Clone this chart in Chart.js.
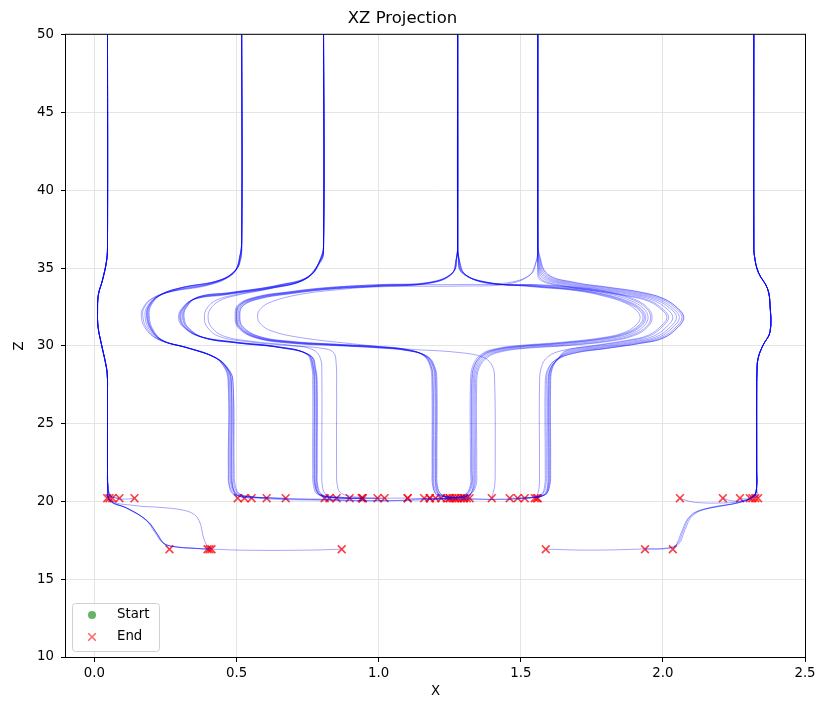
<!DOCTYPE html>
<html>
<head>
<meta charset="utf-8">
<title>XZ Projection</title>
<script src="https://cdn.jsdelivr.net/npm/chart.js@4.4.0/dist/chart.umd.min.js"></script>
<style>
  html, body { margin: 0; padding: 0; background: #fff; }
  #wrap { width: 817px; height: 702px; }
</style>
</head>
<body>
<div id="wrap"><canvas id="xzChart" width="817" height="702"></canvas></div>
<script>
const xTicks = [0.0, 0.5, 1.0, 1.5, 2.0, 2.5];
const zTicks = [10, 15, 20, 25, 30, 35, 40, 45, 50];

// paths are flat [x, z, x, z, ...] lists

// outermost columns: one shared descent, different tails at the floor
const leftColumnCore = [0.046,52, 0.046,36.6, 0.043,35.5, 0.028,34.2, 0.014,33.3, 0.011,32.2, 0.013,31.2, 0.024,30.16, 0.038,29.0, 0.045,28.2, 0.046,27, 0.046,22, 0.047,21];
const leftColumnTails = [
  [0.045,20.21],
  [0.05,20.45, 0.053,20.21],
  [0.052,20.45, 0.063,20.21],
  [0.055,20.4, 0.07,20.25, 0.088,20.21],
  [0.056,20.4, 0.08,20.2, 0.11,20.15, 0.141,20.21],
  [0.053,20.1, 0.113,19.57, 0.183,18.8, 0.218,17.96, 0.239,17.4, 0.264,16.93],
  [0.054,20.1, 0.11,19.6, 0.178,18.86, 0.213,18.0, 0.24,17.35, 0.28,17.1, 0.35,17.0, 0.398,16.93],
  [0.055,20.05, 0.12,19.52, 0.188,18.7, 0.222,17.9, 0.247,17.28, 0.29,17.08, 0.36,16.98, 0.405,16.93],
  [0.055,20.05, 0.118,19.55, 0.186,18.75, 0.22,17.93, 0.244,17.3, 0.29,17.06, 0.36,16.97, 0.41,16.93, 0.55,16.86, 0.75,16.87, 0.87,16.93],
  [0.054,20.1, 0.14,19.74, 0.229,19.62, 0.31,19.45, 0.352,19.15, 0.372,18.6, 0.382,17.8, 0.395,17.2, 0.412,16.93]
];

const rightColumnCore = [2.32,52, 2.32,36.6, 2.322,35.8, 2.336,34.72, 2.368,33.69, 2.377,32.6, 2.377,30.9, 2.352,30.03, 2.335,29.2, 2.331,28.3, 2.33,27, 2.33,22, 2.33,21];
const rightColumnTails = [
  [2.335,20.21],
  [2.328,20.45, 2.325,20.21],
  [2.326,20.45, 2.315,20.21],
  [2.324,20.4, 2.306,20.21],
  [2.322,20.4, 2.295,20.17, 2.271,20.21],
  [2.32,20.35, 2.28,20.05, 2.24,20.05, 2.211,20.21],
  [2.32,20.35, 2.27,20.0, 2.2,19.9, 2.12,19.93, 2.085,20.05, 2.06,20.21],
  [2.322,20.4, 2.285,20.02, 2.2,19.68, 2.125,19.4, 2.09,18.95, 2.068,18.15, 2.05,17.32, 2.035,16.93],
  [2.322,20.4, 2.28,19.98, 2.16,19.55, 2.105,19.1, 2.078,18.2, 2.058,17.32, 2.025,17.0, 1.937,16.93],
  [2.32,20.38, 2.272,19.95, 2.155,19.56, 2.098,19.05, 2.072,18.15, 2.052,17.3, 2.02,17.02, 1.94,16.95, 1.75,16.87, 1.588,16.93]
];

// column x=0.52 -> outer left loop -> down at x~0.48
const outerLeftLoopPaths = [
  [0.518,52, 0.518,36.6, 0.512,35.8, 0.502,34.97, 0.44,34.22, 0.30,33.72, 0.229,33.26, 0.194,32.6, 0.187,31.96, 0.20,31.1, 0.239,30.35, 0.335,29.84, 0.43,29.2, 0.468,28.55, 0.482,27.8, 0.484,22, 0.486,21.1, 0.494,20.5, 0.504,20.21],
  [0.518,52, 0.518,36.4, 0.509,35.6, 0.495,34.85, 0.43,34.12, 0.29,33.62, 0.222,33.16, 0.19,32.55, 0.183,31.96, 0.196,31.12, 0.235,30.38, 0.33,29.86, 0.425,29.25, 0.464,28.6, 0.479,27.8, 0.48,22, 0.483,21.1, 0.497,20.5, 0.515,20.3, 0.528,20.21],
  [0.518,52, 0.518,36.2, 0.508,35.4, 0.49,34.7, 0.42,34.05, 0.28,33.55, 0.215,33.1, 0.185,32.5, 0.178,31.96, 0.19,31.15, 0.23,30.4, 0.325,29.88, 0.42,29.3, 0.46,28.65, 0.475,27.8, 0.477,22, 0.48,21.1, 0.495,20.5, 0.525,20.28, 0.553,20.21],
  [0.518,52, 0.518,36.8, 0.514,35.9, 0.505,35.05, 0.45,34.28, 0.31,33.76, 0.236,33.3, 0.2,32.62, 0.193,31.96, 0.205,31.08, 0.244,30.32, 0.34,29.82, 0.435,29.16, 0.472,28.5, 0.487,27.8, 0.489,22, 0.492,21.0, 0.51,20.45, 0.56,20.28, 0.606,20.21],
  [0.518,52, 0.518,36.0, 0.506,35.25, 0.485,34.6, 0.41,33.98, 0.27,33.5, 0.205,33.05, 0.175,32.45, 0.17,31.96, 0.182,31.2, 0.222,30.45, 0.318,29.92, 0.415,29.35, 0.456,28.7, 0.472,27.8, 0.473,22, 0.476,21.0, 0.495,20.45, 0.56,20.28, 0.63,20.22, 0.673,20.21],
  [0.518,52, 0.518,36.5, 0.511,35.7, 0.498,34.92, 0.435,34.18, 0.295,33.68, 0.226,33.22, 0.192,32.58, 0.185,31.96, 0.198,31.1, 0.237,30.36, 0.333,29.85, 0.428,29.22, 0.466,28.57, 0.481,27.8, 0.483,22, 0.486,21.0, 0.505,20.45, 0.6,20.25, 0.8,20.15, 0.944,20.21],
  [0.518,52, 0.518,35.9, 0.505,35.15, 0.48,34.5, 0.40,33.9, 0.26,33.45, 0.198,33.0, 0.17,32.4, 0.165,31.96, 0.176,31.22, 0.218,30.47, 0.312,29.95, 0.41,29.4, 0.452,28.75, 0.47,27.8, 0.471,22, 0.474,21.0, 0.49,20.45, 0.58,20.2, 0.8,20.08, 1.0,20.05, 1.15,20.1, 1.25,20.21],
  [0.518,52, 0.518,36.7, 0.513,35.85, 0.503,35.0, 0.445,34.25, 0.305,33.74, 0.232,33.28, 0.197,32.61, 0.19,31.96, 0.202,31.09, 0.241,30.34, 0.337,29.83, 0.432,29.18, 0.47,28.52, 0.487,27.8, 0.492,22, 0.496,21.0, 0.515,20.45, 0.62,20.22, 0.85,20.1, 1.05,20.05, 1.18,20.21]
];

// column x=0.81 -> second left loop -> down at x~0.78
const secondLeftLoopPaths = [
  [0.806,52, 0.806,36.6, 0.799,35.8, 0.757,34.5, 0.651,33.9, 0.475,33.4, 0.359,33.1, 0.317,32.4, 0.31,31.8, 0.324,31.2, 0.38,30.55, 0.5,30.2, 0.651,29.9, 0.757,29.4, 0.775,28.55, 0.78,27.5, 0.78,22, 0.781,21.0, 0.79,20.5, 0.81,20.21],
  [0.806,52, 0.806,36.4, 0.797,35.65, 0.752,34.42, 0.645,33.85, 0.47,33.36, 0.355,33.05, 0.313,32.38, 0.305,31.8, 0.318,31.22, 0.374,30.58, 0.495,30.22, 0.646,29.92, 0.752,29.44, 0.771,28.6, 0.776,27.5, 0.776,22, 0.778,21.0, 0.79,20.45, 0.81,20.28, 0.827,20.21],
  [0.806,52, 0.806,36.8, 0.801,35.9, 0.762,34.58, 0.657,33.95, 0.48,33.44, 0.364,33.14, 0.322,32.42, 0.316,31.8, 0.33,31.18, 0.386,30.52, 0.505,30.18, 0.656,29.88, 0.762,29.36, 0.779,28.5, 0.784,27.5, 0.784,22, 0.786,21.0, 0.8,20.45, 0.83,20.27, 0.852,20.21],
  [0.806,52, 0.806,36.2, 0.795,35.5, 0.748,34.35, 0.64,33.8, 0.465,33.32, 0.35,33.0, 0.308,32.35, 0.3,31.8, 0.313,31.25, 0.368,30.62, 0.49,30.25, 0.642,29.95, 0.748,29.48, 0.767,28.65, 0.772,27.5, 0.772,22, 0.775,21.0, 0.79,20.45, 0.84,20.26, 0.898,20.21],
  [0.806,52, 0.806,36.0, 0.793,35.4, 0.744,34.3, 0.635,33.76, 0.46,33.28, 0.345,32.96, 0.304,32.32, 0.296,31.8, 0.309,31.27, 0.364,30.65, 0.486,30.27, 0.638,29.97, 0.744,29.5, 0.764,28.7, 0.768,27.5, 0.768,22, 0.771,21.0, 0.786,20.45, 0.86,20.24, 0.944,20.21],
  [0.806,52, 0.806,36.5, 0.8,35.75, 0.76,34.52, 0.654,33.92, 0.478,33.42, 0.362,33.12, 0.32,32.41, 0.313,31.8, 0.327,31.19, 0.383,30.54, 0.502,30.19, 0.654,29.89, 0.76,29.38, 0.777,28.52, 0.782,27.5, 0.782,22, 0.784,21.0, 0.8,20.42, 0.9,20.22, 0.996,20.21],
  [0.806,52, 0.806,36.3, 0.796,35.55, 0.75,34.38, 0.642,33.82, 0.468,33.34, 0.352,33.02, 0.31,32.36, 0.302,31.8, 0.316,31.24, 0.371,30.6, 0.492,30.24, 0.644,29.94, 0.75,29.46, 0.77,28.62, 0.774,27.5, 0.774,22, 0.777,21.0, 0.795,20.42, 0.9,20.2, 1.021,20.21],
  [0.806,52, 0.806,36.0, 0.79,35.3, 0.735,34.25, 0.62,33.7, 0.5,33.3, 0.43,32.95, 0.395,32.4, 0.387,31.8, 0.397,31.2, 0.44,30.6, 0.55,30.25, 0.7,30.0, 0.8,29.85, 0.84,29.6, 0.85,29.0, 0.852,27.5, 0.852,22, 0.855,21.0, 0.87,20.5, 0.95,20.25, 1.102,20.21],
  [0.806,52, 0.806,35.9, 0.788,35.2, 0.73,34.2, 0.61,33.65, 0.5,33.25, 0.44,32.9, 0.407,32.35, 0.4,31.8, 0.41,31.25, 0.452,30.65, 0.56,30.28, 0.7,30.02, 0.77,29.75, 0.795,29.2, 0.8,28.3, 0.8,22, 0.802,21.0, 0.815,20.45, 0.87,20.27, 0.94,20.21]
];

// top arc leftwards -> inner left loop -> bottom arc -> down at x~1.2 (one at x~1.41)
const innerLeftLoopPaths = [
  [1.278,52, 1.278,36.6, 1.275,35.8, 1.261,34.72, 1.18,34.08, 1.0,33.9, 0.827,33.72, 0.687,33.44, 0.57,33.1, 0.51,32.6, 0.50,31.9, 0.51,31.2, 0.57,30.55, 0.687,30.22, 0.85,30.05, 1.0,29.9, 1.1,29.72, 1.165,29.35, 1.19,28.7, 1.197,27.8, 1.198,22, 1.2,21.0, 1.21,20.5, 1.23,20.3, 1.24,20.21],
  [1.278,52, 1.278,36.4, 1.274,35.7, 1.258,34.65, 1.175,34.04, 1.0,33.86, 0.83,33.68, 0.69,33.4, 0.575,33.06, 0.516,32.58, 0.506,31.9, 0.516,31.22, 0.575,30.58, 0.69,30.26, 0.85,30.08, 1.0,29.93, 1.098,29.75, 1.16,29.38, 1.185,28.72, 1.192,27.8, 1.193,22, 1.195,21.0, 1.21,20.45, 1.24,20.27, 1.26,20.21],
  [1.278,52, 1.278,36.8, 1.276,35.9, 1.264,34.8, 1.185,34.12, 1.0,33.94, 0.824,33.76, 0.684,33.48, 0.566,33.14, 0.505,32.62, 0.495,31.9, 0.505,31.18, 0.566,30.52, 0.684,30.18, 0.85,30.02, 1.0,29.87, 1.103,29.69, 1.17,29.32, 1.195,28.68, 1.202,27.8, 1.203,22, 1.205,21.0, 1.22,20.45, 1.26,20.26, 1.28,20.21],
  [1.278,52, 1.278,36.2, 1.272,35.5, 1.254,34.55, 1.17,34.0, 1.0,33.83, 0.834,33.65, 0.694,33.36, 0.58,33.02, 0.522,32.56, 0.512,31.9, 0.522,31.24, 0.58,30.61, 0.694,30.29, 0.85,30.11, 1.0,29.96, 1.095,29.78, 1.155,29.42, 1.18,28.76, 1.187,27.8, 1.188,22, 1.19,21.0, 1.205,20.45, 1.26,20.25, 1.30,20.21],
  [1.278,52, 1.278,36.5, 1.275,35.75, 1.26,34.7, 1.178,34.06, 1.0,33.88, 0.828,33.7, 0.688,33.42, 0.572,33.08, 0.512,32.6, 0.502,31.9, 0.512,31.2, 0.572,30.56, 0.688,30.24, 0.85,30.06, 1.0,29.91, 1.1,29.73, 1.167,29.36, 1.192,28.7, 1.2,27.8, 1.2,22, 1.202,21.0, 1.215,20.45, 1.27,20.25, 1.32,20.21],
  [1.278,52, 1.278,36.3, 1.273,35.6, 1.256,34.6, 1.172,34.02, 1.0,33.84, 0.832,33.66, 0.692,33.38, 0.578,33.04, 0.52,32.57, 0.51,31.9, 0.52,31.23, 0.578,30.6, 0.692,30.27, 0.85,30.1, 1.0,29.95, 1.097,29.77, 1.158,29.4, 1.183,28.74, 1.19,27.8, 1.19,22, 1.192,21.0, 1.2,20.5, 1.21,20.3, 1.22,20.21],
  [1.56,52, 1.56,36.3, 1.555,35.5, 1.535,34.6, 1.45,34.05, 1.3,33.95, 1.0,33.92, 0.826,33.74, 0.686,33.46, 0.568,33.12, 0.508,32.61, 0.498,31.9, 0.508,31.19, 0.568,30.54, 0.686,30.2, 0.85,30.03, 1.0,29.88, 1.105,29.7, 1.172,29.33, 1.197,28.68, 1.205,27.8, 1.205,22, 1.207,21.0, 1.22,20.45, 1.25,20.27, 1.27,20.21],
  [1.56,52, 1.56,36.0, 1.552,35.3, 1.525,34.45, 1.44,33.95, 1.3,33.85, 1.0,33.8, 0.85,33.6, 0.72,33.3, 0.625,32.85, 0.585,32.4, 0.574,31.9, 0.585,31.4, 0.625,30.95, 0.72,30.55, 0.9,30.15, 1.1,29.8, 1.28,29.58, 1.37,29.25, 1.4,28.7, 1.408,27.8, 1.41,22, 1.408,21.0, 1.402,20.5, 1.398,20.21]
];

// column x=1.28 -> top arc rightwards -> inner right loop -> down at x~1.33
const innerRightLoopPaths = [
  [1.278,52, 1.278,36.6, 1.281,35.8, 1.296,34.72, 1.38,34.08, 1.55,33.85, 1.70,33.62, 1.80,33.3, 1.88,32.85, 1.925,32.35, 1.94,31.83, 1.925,31.3, 1.88,30.8, 1.80,30.45, 1.65,30.15, 1.50,29.95, 1.42,29.75, 1.37,29.4, 1.342,28.7, 1.333,27.6, 1.333,22, 1.332,21.0, 1.325,20.5, 1.315,20.3, 1.31,20.21],
  [1.278,52, 1.278,36.4, 1.282,35.7, 1.3,34.66, 1.385,34.05, 1.555,33.88, 1.705,33.66, 1.808,33.35, 1.888,32.9, 1.933,32.38, 1.948,31.83, 1.933,31.28, 1.888,30.76, 1.808,30.4, 1.655,30.1, 1.505,29.91, 1.425,29.71, 1.375,29.36, 1.346,28.66, 1.337,27.6, 1.337,22, 1.335,21.0, 1.32,20.45, 1.3,20.27, 1.29,20.21],
  [1.278,52, 1.278,36.8, 1.28,35.9, 1.292,34.78, 1.375,34.11, 1.545,33.82, 1.695,33.58, 1.792,33.25, 1.87,32.8, 1.915,32.32, 1.93,31.83, 1.915,31.32, 1.87,30.84, 1.792,30.5, 1.645,30.2, 1.495,29.99, 1.415,29.79, 1.365,29.44, 1.338,28.74, 1.329,27.6, 1.329,22, 1.328,21.0, 1.312,20.45, 1.285,20.27, 1.27,20.21],
  [1.278,52, 1.278,36.2, 1.283,35.55, 1.304,34.6, 1.39,34.02, 1.56,33.91, 1.71,33.7, 1.815,33.4, 1.896,32.95, 1.942,32.41, 1.957,31.83, 1.942,31.25, 1.896,30.72, 1.815,30.35, 1.66,30.05, 1.51,29.87, 1.43,29.67, 1.38,29.32, 1.35,28.62, 1.341,27.6, 1.341,22, 1.338,21.0, 1.32,20.45, 1.28,20.25, 1.25,20.21],
  [1.278,52, 1.278,36.5, 1.281,35.75, 1.294,34.7, 1.378,34.09, 1.548,33.84, 1.698,33.6, 1.796,33.28, 1.875,32.83, 1.92,32.34, 1.935,31.83, 1.92,31.31, 1.875,30.82, 1.796,30.48, 1.648,30.18, 1.498,29.97, 1.418,29.77, 1.368,29.42, 1.336,28.72, 1.327,27.6, 1.327,22, 1.325,21.0, 1.305,20.42, 1.25,20.22, 1.2,20.21],
  [1.278,52, 1.278,36.0, 1.284,35.45, 1.308,34.55, 1.395,33.99, 1.565,33.93, 1.715,33.73, 1.82,33.43, 1.902,32.98, 1.947,32.43, 1.962,31.83, 1.947,31.23, 1.902,30.69, 1.82,30.32, 1.665,30.02, 1.515,29.84, 1.435,29.64, 1.385,29.29, 1.354,28.6, 1.345,27.6, 1.345,22, 1.342,21.0, 1.32,20.42, 1.25,20.2, 1.18,20.21],
  [1.278,52, 1.278,36.3, 1.28,35.65, 1.29,34.74, 1.372,34.13, 1.542,33.8, 1.692,33.56, 1.788,33.22, 1.865,32.78, 1.906,32.3, 1.92,31.83, 1.906,31.35, 1.865,30.87, 1.788,30.53, 1.642,30.23, 1.492,30.02, 1.412,29.82, 1.362,29.47, 1.332,28.76, 1.323,27.6, 1.323,22, 1.322,21.0, 1.3,20.4, 1.22,20.18, 1.16,20.21]
];

// column x=1.56 -> outer right loop -> down at x~1.6
const outerRightLoopPaths = [
  [1.56,52, 1.56,36.6, 1.565,35.8, 1.592,34.6, 1.683,34.08, 1.803,33.76, 1.919,33.44, 2.0,33.05, 2.053,32.41, 2.074,31.83, 2.053,31.19, 2.0,30.49, 1.919,30.16, 1.803,29.84, 1.683,29.52, 1.627,29.07, 1.602,28.43, 1.595,27.5, 1.595,22, 1.594,21.0, 1.585,20.5, 1.57,20.3, 1.56,20.21],
  [1.56,52, 1.56,36.4, 1.564,35.7, 1.588,34.55, 1.678,34.04, 1.798,33.72, 1.913,33.4, 1.993,33.02, 2.046,32.4, 2.067,31.83, 2.046,31.21, 1.993,30.52, 1.913,30.19, 1.798,29.87, 1.678,29.55, 1.622,29.1, 1.597,28.46, 1.59,27.5, 1.59,22, 1.588,21.0, 1.578,20.5, 1.56,20.28, 1.549,20.21],
  [1.56,52, 1.56,36.2, 1.563,35.55, 1.584,34.5, 1.672,34.0, 1.79,33.68, 1.905,33.36, 1.985,32.99, 2.037,32.38, 2.058,31.83, 2.037,31.23, 1.985,30.55, 1.905,30.22, 1.79,29.9, 1.672,29.58, 1.628,29.12, 1.603,28.48, 1.598,27.5, 1.598,22, 1.596,21.0, 1.585,20.45, 1.545,20.26, 1.514,20.21],
  [1.56,52, 1.56,36.0, 1.562,35.45, 1.58,34.45, 1.668,33.96, 1.785,33.64, 1.898,33.32, 1.976,32.96, 2.028,32.37, 2.048,31.83, 2.028,31.25, 1.976,30.58, 1.898,30.26, 1.785,29.94, 1.668,29.62, 1.63,29.15, 1.606,28.5, 1.6,27.5, 1.6,22, 1.598,21.0, 1.585,20.45, 1.53,20.25, 1.489,20.21],
  [1.56,52, 1.56,35.8, 1.561,35.3, 1.576,34.38, 1.662,33.92, 1.778,33.6, 1.89,33.28, 1.966,32.93, 2.016,32.35, 2.035,31.83, 2.016,31.28, 1.966,30.62, 1.89,30.3, 1.778,29.98, 1.662,29.66, 1.633,29.18, 1.609,28.52, 1.603,27.5, 1.603,22, 1.6,21.0, 1.585,20.42, 1.52,20.24, 1.461,20.21],
  [1.56,52, 1.56,35.6, 1.56,35.15, 1.572,34.3, 1.655,33.87, 1.77,33.55, 1.88,33.24, 1.955,32.9, 2.002,32.33, 2.02,31.83, 2.002,31.3, 1.955,30.66, 1.88,30.34, 1.77,30.02, 1.66,29.7, 1.632,29.2, 1.611,28.55, 1.605,27.5, 1.605,22, 1.602,21.0, 1.585,20.42, 1.5,20.2, 1.3,20.12, 1.102,20.21],
  [1.56,52, 1.56,36.7, 1.566,35.85, 1.594,34.63, 1.686,34.1, 1.806,33.78, 1.922,33.46, 2.0,33.06, 2.052,32.42, 2.072,31.83, 2.052,31.2, 2.0,30.5, 1.922,30.17, 1.806,29.85, 1.686,29.52, 1.62,29.06, 1.593,28.42, 1.586,27.5, 1.586,22, 1.584,21.0, 1.57,20.42, 1.5,20.18, 1.4,20.14, 1.30,20.21],
  [1.56,52, 1.56,35.5, 1.559,35.05, 1.568,34.25, 1.65,33.84, 1.764,33.52, 1.874,33.21, 1.948,32.88, 1.996,32.32, 2.014,31.83, 1.996,31.32, 1.948,30.68, 1.874,30.36, 1.764,30.04, 1.65,29.72, 1.595,29.3, 1.572,28.6, 1.566,27.5, 1.566,22, 1.565,21.0, 1.56,20.5, 1.556,20.21]
];

const allPaths = [
  ...leftColumnTails.map(t => leftColumnCore.concat(t)),
  ...rightColumnTails.map(t => rightColumnCore.concat(t)),
  ...outerLeftLoopPaths,
  ...secondLeftLoopPaths,
  ...innerLeftLoopPaths,
  ...innerRightLoopPaths,
  ...outerRightLoopPaths
];

function toPoints(flat) {
  const pts = [];
  for (let i = 0; i < flat.length; i += 2) pts.push({ x: flat[i], y: flat[i + 1] });
  return pts;
}

const startPoints = allPaths.map(p => ({ x: p[0], y: p[1] }));
const endPoints = allPaths.map(p => ({ x: p[p.length - 2], y: p[p.length - 1] }));

const lineSets = allPaths.map(p => ({
  data: toPoints(p),
  showLine: true,
  borderColor: "rgba(0,0,255,0.35)",
  borderWidth: 1,
  pointRadius: 0,
  tension: 0.4,
  fill: false
}));

const startSet = {
  label: "Start",
  data: startPoints,
  pointStyle: "circle",
  pointRadius: 4,
  pointBackgroundColor: "rgba(0,128,0,0.6)",
  pointBorderWidth: 0,
  showLine: false
};

const endSet = {
  label: "End",
  data: endPoints,
  pointStyle: "crossRot",
  pointRadius: 5.5,
  pointBorderColor: "rgba(255,0,0,0.75)",
  pointBorderWidth: 1.6,
  showLine: false
};

// matplotlib-like frame and legend box in the lower left
const frameAndLegend = {
  id: "frameAndLegend",
  afterDraw(chart) {
    const { ctx, chartArea } = chart;
    ctx.save();
    ctx.strokeStyle = "#000";
    ctx.lineWidth = 1;
    ctx.strokeRect(chartArea.left - 0.5, chartArea.top - 0.5,
      chartArea.right - chartArea.left + 1, chartArea.bottom - chartArea.top + 1);

    const bx = chartArea.left + 6, by = chartArea.bottom - 54;
    ctx.beginPath();
    ctx.roundRect(bx + 0.5, by + 0.5, 87, 48, 3);
    ctx.fillStyle = "rgba(255,255,255,0.8)";
    ctx.fill();
    ctx.strokeStyle = "#d0d0d0";
    ctx.stroke();

    ctx.fillStyle = startSet.pointBackgroundColor;
    ctx.beginPath();
    ctx.arc(bx + 20, by + 12, 4, 0, Math.PI * 2);
    ctx.fill();

    ctx.strokeStyle = "rgba(255,0,0,0.6)";
    ctx.lineWidth = 1.6;
    const cx = bx + 20, cy = by + 34, r = 3.8;
    ctx.beginPath();
    ctx.moveTo(cx - r, cy - r); ctx.lineTo(cx + r, cy + r);
    ctx.moveTo(cx - r, cy + r); ctx.lineTo(cx + r, cy - r);
    ctx.stroke();

    ctx.fillStyle = "#000";
    ctx.font = "13.3px 'DejaVu Sans'";
    ctx.textBaseline = "middle";
    ctx.fillText(startSet.label, bx + 45, by + 12);
    ctx.fillText(endSet.label, bx + 45, by + 34);
    ctx.restore();
  }
};

Chart.defaults.font.family = "'DejaVu Sans', sans-serif";
Chart.defaults.color = "#000";

new Chart(document.getElementById("xzChart"), {
  type: "scatter",
  data: { datasets: [...lineSets, startSet, endSet] },
  options: {
    responsive: false,
    animation: false,
    events: [],
    devicePixelRatio: 1,
    layout: { padding: { left: 0, right: 12, top: 0, bottom: 0 } },
    plugins: {
      legend: { display: false },
      tooltip: { enabled: false },
      title: {
        display: true,
        text: "XZ Projection",
        color: "#000",
        font: { size: 16.5, weight: "normal" },
        padding: { top: 9, bottom: 6 }
      }
    },
    scales: {
      x: {
        type: "linear",
        min: -0.1,
        max: 2.5,
        afterBuildTicks: s => { s.ticks = xTicks.map(v => ({ value: v })); },
        afterFit: s => { s.height = 45; s.paddingRight = 0; s.paddingLeft = 0; },
        ticks: {
          autoSkip: false,
          maxRotation: 0,
          padding: 4,
          font: { size: 13.3 },
          callback: v => Number(v).toFixed(1)
        },
        grid: { color: "#e4e4e4", lineWidth: 1, tickLength: 5, tickColor: "#000" },
        border: { display: false },
        title: { display: true, text: "X", font: { size: 13.3 }, padding: { top: 0, bottom: 2 } }
      },
      y: {
        type: "linear",
        min: 10,
        max: 50,
        afterBuildTicks: s => { s.ticks = zTicks.map(v => ({ value: v })); },
        afterFit: s => { s.width = 66; },
        ticks: { autoSkip: false, padding: 7, font: { size: 13.3 } },
        grid: { color: "#e4e4e4", lineWidth: 1, tickLength: 5, tickColor: "#000" },
        border: { display: false },
        title: { display: true, text: "Z", font: { size: 13.3 }, padding: { top: 12, bottom: 0 } }
      }
    }
  },
  plugins: [frameAndLegend]
});
</script>
</body>
</html>
